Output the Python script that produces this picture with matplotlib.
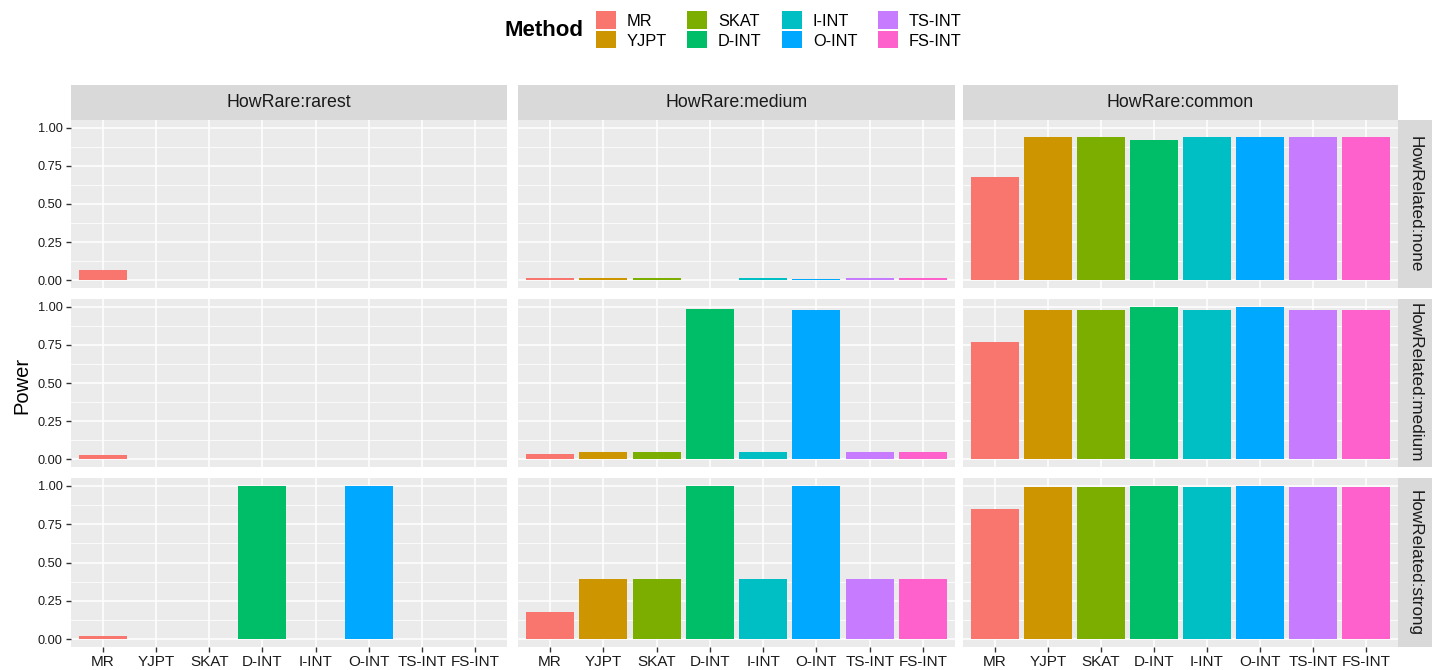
import matplotlib
matplotlib.use("Agg")
import matplotlib.pyplot as plt
import matplotlib.patches as patches

plt.rcParams['font.family'] = ['Liberation Sans', 'DejaVu Sans']

methods = ["MR", "YJPT", "SKAT", "D-INT", "I-INT", "O-INT", "TS-INT", "FS-INT"]
colors = ["#F8766D", "#CD9600", "#7CAE00", "#00BE67", "#00BFC4", "#00A9FF", "#C77CFF", "#FF61CC"]
how_rare = ["rarest", "medium", "common"]
how_related = ["none", "medium", "strong"]

# power[related][rare] -> one value per method
none_rarest = [0.065, 0, 0, 0, 0, 0, 0, 0]
none_medium = [0.015, 0.015, 0.015, 0, 0.015, 0.01, 0.015, 0.015]
none_common = [0.68, 0.94, 0.94, 0.92, 0.94, 0.94, 0.94, 0.94]
medium_rarest = [0.03, 0, 0, 0, 0, 0, 0, 0]
medium_medium = [0.035, 0.045, 0.045, 0.985, 0.045, 0.975, 0.045, 0.045]
medium_common = [0.77, 0.975, 0.975, 1.0, 0.975, 1.0, 0.975, 0.975]
strong_rarest = [0.02, 0.005, 0.005, 1.0, 0.005, 1.0, 0.005, 0.005]
strong_medium = [0.175, 0.39, 0.39, 1.0, 0.39, 1.0, 0.39, 0.39]
strong_common = [0.85, 0.99, 0.99, 1.0, 0.99, 1.0, 0.99, 0.99]

power = [[none_rarest, none_medium, none_common],
         [medium_rarest, medium_medium, medium_common],
         [strong_rarest, strong_medium, strong_common]]

W, H = 1434, 670
fig = plt.figure(figsize=(W / 100, H / 100), dpi=100)

# panel layout in pixels
col_x = [(71, 507), (518, 955), (963, 1398)]
row_y = [(120, 288), (299, 467), (478, 647)]
strip_top = (85, 120)
strip_right = (1398, 1432)

def px_axes(x0, x1, y0, y1):
    return fig.add_axes([x0 / W, 1 - y1 / H, (x1 - x0) / W, (y1 - y0) / H])

xs = list(range(1, len(methods) + 1))
for r in range(3):
    for c in range(3):
        ax = px_axes(col_x[c][0], col_x[c][1], row_y[r][0], row_y[r][1])
        ax.set_facecolor("#EBEBEB")
        ax.bar(xs, power[r][c], width=0.9, color=colors, zorder=3)
        ax.set_xlim(0.4, 8.6)
        ax.set_ylim(-0.05, 1.05)
        ax.set_yticks([0, 0.25, 0.5, 0.75, 1.0])
        ax.set_yticks([0.125, 0.375, 0.625, 0.875], minor=True)
        ax.set_xticks(xs)
        ax.grid(which="major", color="white", linewidth=1.1, zorder=1)
        ax.grid(which="minor", axis="y", color="white", linewidth=0.55, zorder=1)
        for s in ax.spines.values():
            s.set_visible(False)
        ax.tick_params(which="minor", length=0)
        ax.tick_params(which="major", color="#333333", length=3.5, width=1.0, pad=2.5)
        if c == 0:
            ax.set_yticklabels(["0.00", "0.25", "0.50", "0.75", "1.00"], fontsize=9.2, color="#1A1A1A")
        else:
            ax.tick_params(axis="y", length=0, labelleft=False)
        if r == 2:
            ax.set_xticklabels(methods, fontsize=11, color="#1A1A1A")
        else:
            ax.tick_params(axis="x", length=0, labelbottom=False)

# top strips
for c in range(3):
    sx = px_axes(col_x[c][0], col_x[c][1], strip_top[0], strip_top[1])
    sx.set_facecolor("#D9D9D9")
    sx.set_xticks([]); sx.set_yticks([])
    for s in sx.spines.values():
        s.set_visible(False)
    sx.text(0.5, 0.5, "HowRare:" + how_rare[c], ha="center", va="center",
            fontsize=12.8, color="#1A1A1A", transform=sx.transAxes)

# right strips
for r in range(3):
    sx = px_axes(strip_right[0], strip_right[1], row_y[r][0], row_y[r][1])
    sx.set_facecolor("#D9D9D9")
    sx.set_xticks([]); sx.set_yticks([])
    for s in sx.spines.values():
        s.set_visible(False)
    sx.text(0.5, 0.5, "HowRelated:" + how_related[r], ha="center", va="center",
            rotation=-90, fontsize=12.3, color="#1A1A1A", transform=sx.transAxes)

fig.text(22 / W, 1 - 385 / H, "Power", rotation=90, ha="center", va="center", fontsize=14.5)

# legend
handles = [patches.Patch(facecolor=col, edgecolor="none", label=m) for m, col in zip(methods, colors)]
fig.text(544 / W, 1 - 31 / H, "Method", ha="center", va="center", fontsize=16, fontweight="bold")
fig.legend(handles=handles, ncol=4, loc="center left", bbox_to_anchor=(596 / W, 1 - 30 / H),
           frameon=False, fontsize=11.8, handlelength=1.22, handleheight=1.22,
           handletextpad=0.65, columnspacing=1.25, labelspacing=0.18, borderpad=0, borderaxespad=0)

fig.savefig("out.png", dpi=100)
